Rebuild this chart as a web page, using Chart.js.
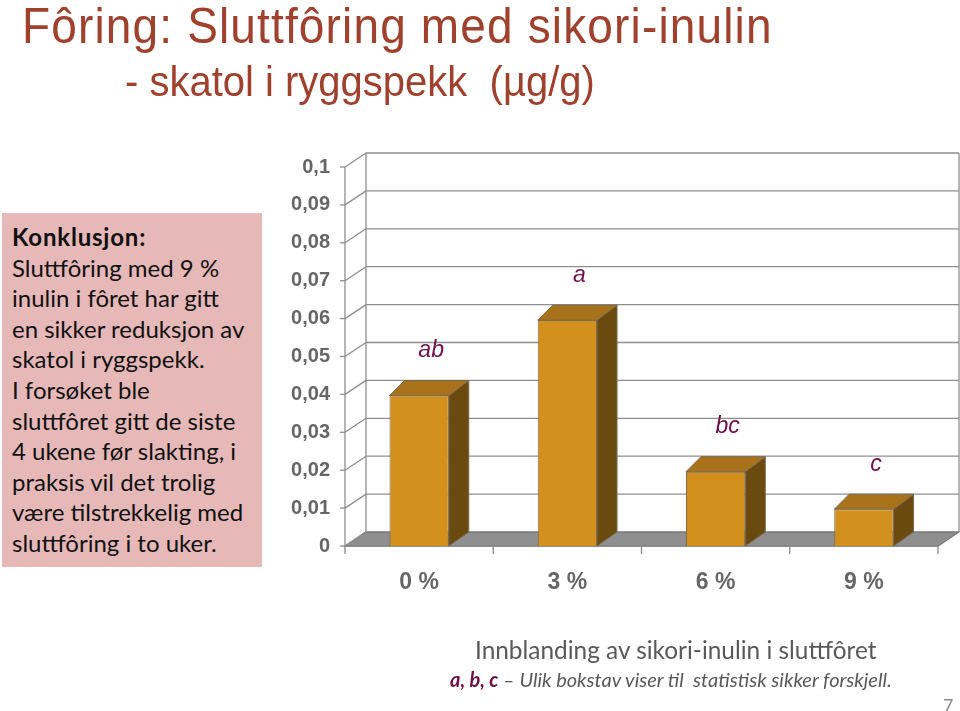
<!DOCTYPE html>
<html>
<head>
<meta charset="utf-8">
<script src="https://cdn.jsdelivr.net/npm/chart.js@4.4.1/dist/chart.umd.min.js"></script>
<style>
  html, body { margin:0; padding:0; background:#ffffff; }
  body { width:960px; height:711px; position:relative; overflow:hidden; }
  #c { position:absolute; left:0; top:0; }
  .t { position:absolute; white-space:nowrap; line-height:1; }
  #title { left:22px; top:-3px; font:46px "Liberation Sans", Arial, sans-serif; color:#a0412e; letter-spacing:1.15px; transform-origin:0 0; transform:scale(1,1.08); }
  #subtitle { left:125px; top:58px; font:40px "Liberation Sans", Arial, sans-serif; color:#a0412e; transform-origin:0 0; transform:scale(1,1.05); }
  #box { position:absolute; left:2px; top:213px; width:260px; height:354px; background:#e6b9b8; }
  #boxtext { position:absolute; left:12px; top:222px; font:24px Lato, "Liberation Sans", sans-serif; color:#111; line-height:30.6px; white-space:nowrap; }
  #boxtext b { letter-spacing:0.8px; }
  #xtitle { left:475px; top:635px; font:24.4px Lato, "Liberation Sans", sans-serif; color:#595959; }
  #note { left:450px; top:667px; font:italic 20px Lato, "Liberation Sans", sans-serif; color:#595959; }
  #note b { color:#6d1048; }
  #page { left:943px; top:694px; font:18px Lato, "Liberation Sans", sans-serif; color:#8c8c8c; }
</style>
</head>
<body>
<canvas id="c" width="960" height="711"></canvas>
<div class="t" id="title">Fôring: Sluttfôring med sikori-inulin</div>
<div class="t" id="subtitle">- skatol i ryggspekk&nbsp; (µg/g)</div>
<div id="box"></div>
<div id="boxtext"><b>Konklusjon:</b><br>Sluttfôring med 9 %<br>inulin i fôret har gitt<br>en sikker reduksjon av<br>skatol i ryggspekk.<br>I forsøket ble<br>sluttfôret gitt de siste<br>4 ukene før slakting, i<br>praksis vil det trolig<br>være tilstrekkelig med<br>sluttfôring i to uker.</div>
<div class="t" id="xtitle">Innblanding av sikori-inulin i sluttfôret</div>
<div class="t" id="note"><b>a, b, c</b> – Ulik bokstav viser til&nbsp; statistisk sikker forskjell.</div>
<div class="t" id="page">7</div>
<script>
// ---- data ----
const categories = ['0 %', '3 %', '6 %', '9 %'];
const skatol = [0.0397, 0.0596, 0.0196, 0.0097];
const sigLetters = ['ab', 'a', 'bc', 'c'];
const yTickLabels = ['0', '0,01', '0,02', '0,03', '0,04', '0,05', '0,06', '0,07', '0,08', '0,09', '0,1'];

// ---- 3D look ----
const DX = 21, DY = -14;           // wall depth offset
const BDXL = 15, BDXR = 20, BDY = -15; // bar depth offset
const FRONT = '#d4901d', TOP = '#a8721a', SIDE = '#6b4a10', EDGE = '#7a6a50';
const GRID = '#8e8e8e';

function poly(ctx, pts, fill, stroke) {
  ctx.beginPath();
  ctx.moveTo(pts[0][0], pts[0][1]);
  for (let i = 1; i < pts.length; i++) ctx.lineTo(pts[i][0], pts[i][1]);
  ctx.closePath();
  if (fill) { ctx.fillStyle = fill; ctx.fill(); }
  if (stroke) { ctx.strokeStyle = stroke; ctx.stroke(); }
}
function line(ctx, x1, y1, x2, y2) {
  ctx.beginPath(); ctx.moveTo(x1, y1); ctx.lineTo(x2, y2); ctx.stroke();
}

const box3d = {
  id: 'box3d',
  beforeDatasetsDraw(chart) {
    const { ctx, chartArea: { left, right, top, bottom }, scales: { x, y } } = chart;
    ctx.save();
    ctx.lineWidth = 1.3;
    // floor
    poly(ctx, [[left, bottom], [left + DX, bottom + DY], [right + DX, bottom + DY], [right, bottom]], '#8f8f8f', '#7a7a7a');
    ctx.strokeStyle = GRID;
    // back wall grid + side wall diagonals + y ticks
    yTickLabels.forEach((_, i) => {
      const v = i / 100;
      const py = y.getPixelForValue(v);
      if (i > 0) line(ctx, left + DX, py + DY, right + DX, py + DY);
      line(ctx, left, py, left + DX, py + DY);
      line(ctx, left - 5, py, left, py);
    });
    // back wall edges
    line(ctx, left + DX, top + DY, left + DX, bottom + DY);
    line(ctx, right + DX, top + DY, right + DX, bottom + DY);
    // front y axis
    line(ctx, left, top, left, bottom);
    // x axis + ticks
    ctx.strokeStyle = '#8a8a8a';
    line(ctx, left, bottom, right, bottom);
    const n = categories.length;
    const step = (x.getPixelForValue(n - 1) - x.getPixelForValue(0)) / (n - 1);
    for (let i = 0; i <= n; i++) {
      const px = x.getPixelForValue(0) - step / 2 + i * step;
      line(ctx, px, bottom, px, bottom + 8);
    }
    ctx.restore();
  },
  afterDatasetsDraw(chart) {
    const { ctx, scales: { y } } = chart;
    const meta = chart.getDatasetMeta(0);
    ctx.save();
    ctx.lineWidth = 1;
    meta.data.forEach((bar, i) => {
      const { x: bx, y: by, base, width } = bar.getProps(['x', 'y', 'base', 'width'], true);
      const l = bx - width / 2, r = bx + width / 2;
      poly(ctx, [[r, by], [r + BDXR, by + BDY], [r + BDXR, base + DY], [r, base]], SIDE, EDGE);
      poly(ctx, [[l, by], [l + BDXL, by + BDY], [r + BDXR, by + BDY], [r, by]], TOP, EDGE);
      ctx.font = 'italic 23px "Liberation Sans", Arial, sans-serif';
      ctx.fillStyle = '#6d1048';
      ctx.textAlign = 'center';
      ctx.textBaseline = 'middle';
      ctx.fillText(sigLetters[i], bx + 12, y.getPixelForValue(skatol[i]) - 45);
    });
    ctx.restore();
  }
};

new Chart(document.getElementById('c'), {
  type: 'bar',
  data: {
    labels: categories,
    datasets: [{
      data: skatol,
      backgroundColor: FRONT,
      borderColor: EDGE,
      borderWidth: 1,
      barPercentage: 0.4,
      categoryPercentage: 1.0
    }]
  },
  options: {
    responsive: false,
    animation: false,
    events: [],
    layout: { padding: { left: 0, top: 167, right: 22, bottom: 115 } },
    plugins: { legend: { display: false }, tooltip: { enabled: false } },
    scales: {
      x: {
        grid: { display: false },
        border: { display: false },
        ticks: { color: '#666666', font: { family: '"Liberation Sans", Arial, sans-serif', size: 23, weight: 'bold' }, padding: 15 },
        afterFit(s) { s.height = 50; }
      },
      y: {
        min: 0, max: 0.1,
        grid: { display: false },
        border: { display: false },
        ticks: {
          stepSize: 0.01,
          color: '#666666',
          font: { family: '"Liberation Sans", Arial, sans-serif', size: 20, weight: 'bold' },
          padding: 7,
          callback: (v, i) => yTickLabels[i]
        },
        afterFit(s) { s.width = 345; }
      }
    }
  },
  plugins: [box3d]
});
</script>
</body>
</html>
